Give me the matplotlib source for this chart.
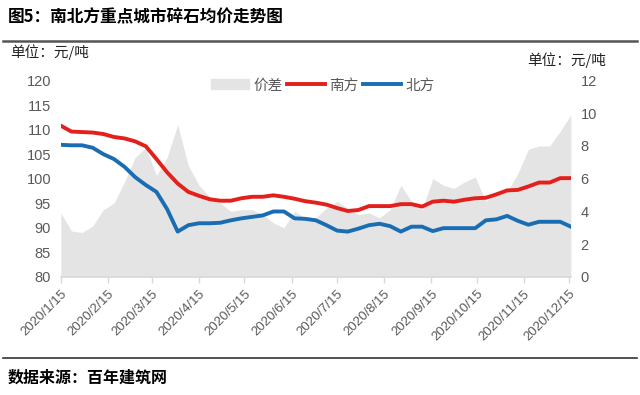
import pandas as pd
import matplotlib.pyplot as plt
from matplotlib.patches import Patch
from matplotlib.lines import Line2D

plt.rcParams['font.family'] = ['Liberation Sans', 'Noto Sans CJK SC', 'DejaVu Sans']

# weekly prices, yuan/ton
dates = pd.date_range('2020-01-15', periods=49, freq='7D')
south = [110.8, 109.6, 109.5, 109.4, 109.1, 108.5, 108.2, 107.6, 106.6, 104.0,
         101.3, 99.0, 97.3, 96.5, 95.8, 95.5, 95.5, 96.0, 96.3, 96.3,
         96.6, 96.3, 95.9, 95.4, 95.1, 94.7, 94.0, 93.4, 93.6, 94.4,
         94.4, 94.4, 94.8, 94.8, 94.3, 95.3, 95.5, 95.3, 95.7, 96.0,
         96.1, 96.8, 97.6, 97.7, 98.4, 99.2, 99.2, 100.1, 100.1]
north = [106.9, 106.8, 106.8, 106.3, 105.0, 104.0, 102.4, 100.3, 98.7, 97.3,
         93.8, 89.2, 90.5, 90.9, 90.9, 91.0, 91.5, 91.9, 92.2, 92.5,
         93.3, 93.3, 91.9, 91.8, 91.5, 90.5, 89.4, 89.2, 89.8, 90.5,
         90.8, 90.3, 89.2, 90.2, 90.2, 89.3, 89.9, 89.9, 89.9, 89.9,
         91.5, 91.7, 92.4, 91.4, 90.6, 91.2, 91.2, 91.2, 90.2]
spread = [3.9, 2.8, 2.7, 3.1, 4.1, 4.5, 5.8, 7.3, 7.9, 6.2,
          7.3, 9.3, 6.8, 5.6, 4.9, 4.5, 4.0, 4.1, 4.1, 3.8,
          3.3, 3.0, 4.0, 3.6, 3.6, 4.2, 4.6, 4.2, 3.8, 3.9,
          3.6, 4.1, 5.6, 4.6, 4.1, 6.0, 5.6, 5.4, 5.8, 6.1,
          4.6, 5.1, 5.2, 6.3, 7.8, 8.0, 8.0, 8.9, 9.9]
tick_labels = ['2020/%d/15' % m for m in range(1, 13)]
tick_dates = pd.to_datetime(['2020-%02d-15' % m for m in range(1, 13)])

RED = '#E3201B'
BLUE = '#1B6DB3'
GRAY = '#E4E4E4'
TXT = '#595959'

fig = plt.figure(figsize=(6.4, 3.95), dpi=100)
ax = fig.add_axes([0.095, 0.2995, 0.797, 0.4965])
ax2 = ax.twinx()
ax.set_zorder(ax2.get_zorder() + 1)
ax.patch.set_visible(False)

ax2.fill_between(dates, 0, spread, color=GRAY, lw=0)
ax.plot(dates, south, color=RED, lw=2.8)
ax.plot(dates, north, color=BLUE, lw=2.8)

ax.set_xlim(dates[0], dates[-1])
ax.set_ylim(80, 120)
ax2.set_ylim(0, 12)
ax.set_yticks(range(80, 121, 5))
ax2.set_yticks(range(0, 13, 2))
ax.set_xticks(tick_dates)
ax.set_xticklabels(tick_labels, rotation=45, ha='right', rotation_mode='anchor')

for a in (ax, ax2):
    for s in a.spines.values():
        s.set_visible(False)
ax.spines['bottom'].set_visible(True)
ax.spines['bottom'].set_color('#D9D9D9')
ax.spines['bottom'].set_linewidth(1.2)
ax.tick_params(axis='x', colors='#D9D9D9', labelcolor=TXT, labelsize=9.5, length=4, width=1, pad=4)
ax.tick_params(axis='y', length=0, labelcolor=TXT, labelsize=10.5, pad=7)
ax2.tick_params(axis='y', length=0, labelcolor=TXT, labelsize=10.5, pad=7)

handles = [Patch(color=GRAY, label='价差'),
           Line2D([], [], color=RED, lw=2.8, label='南方'),
           Line2D([], [], color=BLUE, lw=2.8, label='北方')]
leg = ax.legend(handles=handles, loc='center', bbox_to_anchor=(0.514, 0.975), ncol=3,
                frameon=False, fontsize=10.5, handlelength=2.6, handletextpad=0.3,
                columnspacing=0.3)
for t in leg.get_texts():
    t.set_color(TXT)

fig.text(0.012, 0.955, '图5：南北方重点城市碎石均价走势图', fontsize=12, weight='bold',
         va='center', family=['Noto Sans CJK SC'])
fig.add_artist(Line2D([0.005, 0.995], [0.897, 0.897], color='#555555', lw=1.8))
fig.text(0.016, 0.868, '单位：元/吨', fontsize=10.5, va='center', color='#222222',
         family=['Noto Sans CJK SC'])
fig.text(0.823, 0.848, '单位：元/吨', fontsize=10.5, va='center', color='#222222',
         family=['Noto Sans CJK SC'])
fig.add_artist(Line2D([0.005, 0.995], [0.093, 0.093], color='#333333', lw=1.2))
fig.text(0.012, 0.043, '数据来源：百年建筑网', fontsize=11.5, weight='bold', va='center',
         family=['Noto Sans CJK SC'])

fig.savefig('out.png', dpi=100)
